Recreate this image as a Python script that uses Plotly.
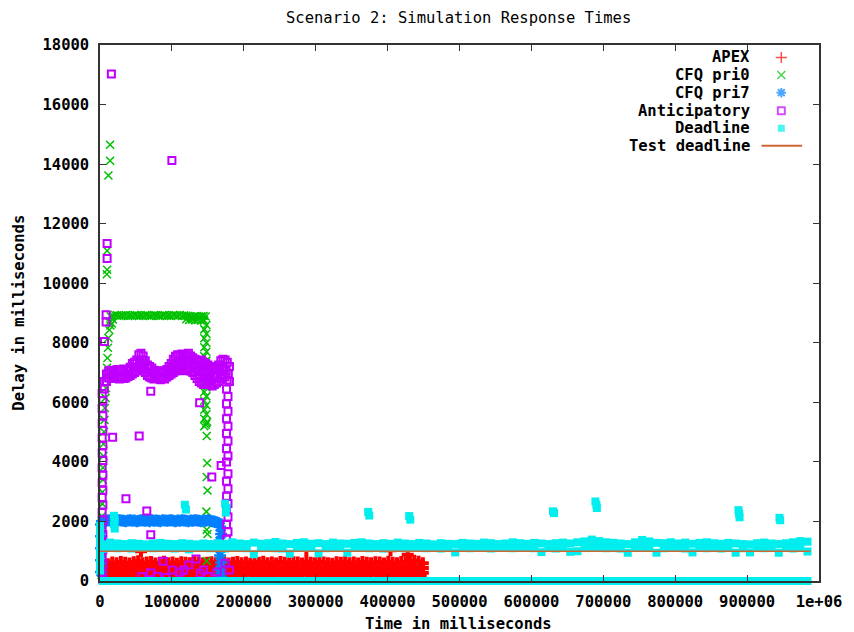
import plotly.graph_objects as go

# ---------------- tick labels ----------------
x_ticks = [0, 100000, 200000, 300000, 400000, 500000, 600000, 700000, 800000, 900000, 1000000]
x_tick_text = ["0", "100000", "200000", "300000", "400000", "500000",
               "600000", "700000", "800000", "900000", "1e+06"]
y_ticks = [0, 2000, 4000, 6000, 8000, 10000, 12000, 14000, 16000, 18000]

# ---------------- APEX (ms) ----------------
apex_t = [5000, 11000, 17000, 23000, 29000, 35000, 41000, 47000, 53000, 59000,
          65000, 71000, 77000, 83000, 89000, 95000, 101000, 107000, 113000, 119000,
          125000, 131000, 137000, 143000, 149000, 155000, 161000, 167000, 173000, 179000,
          185000, 191000, 197000, 203000, 209000, 215000, 221000, 227000, 233000, 239000,
          245000, 251000, 257000, 263000, 269000, 275000, 281000, 287000, 293000, 299000,
          305000, 311000, 317000, 323000, 329000, 335000, 341000, 347000, 353000, 359000,
          365000, 371000, 377000, 383000, 389000, 395000, 401000, 407000, 413000, 419000,
          425000, 431000, 437000, 443000, 449000]
apex_hi = [470, 560, 620, 600, 640, 610, 590, 630, 660, 600,
           620, 640, 590, 610, 650, 600, 620, 580, 630, 610,
           600, 640, 620, 590, 610, 630, 600, 650, 620, 590,
           610, 640, 600, 620, 580, 630, 610, 650, 600, 620,
           590, 640, 610, 600, 630, 620, 590, 650, 610, 600,
           640, 620, 600, 580, 630, 610, 650, 600, 620, 590,
           640, 610, 600, 630, 620, 590, 650, 610, 600, 640,
           620, 660, 680, 650, 600]
apex_mid = [380, 430, 450, 460, 440, 470, 450, 430, 460, 450,
            440, 470, 450, 460, 430, 450, 470, 440, 460, 450,
            430, 460, 450, 470, 440, 450, 460, 430, 470, 450,
            440, 460, 450, 430, 470, 450, 460, 440, 450, 470,
            430, 460, 450, 440, 470, 450, 430, 460, 450, 470,
            440, 450, 460, 430, 470, 450, 440, 460, 450, 430,
            470, 450, 460, 440, 450, 470, 430, 460, 450, 440,
            470, 460, 480, 470, 440]
apex_lo = [280, 300, 290, 310, 280, 300, 320, 290, 300, 280,
           310, 290, 300, 320, 280, 300, 290, 310, 300, 280,
           320, 290, 300, 310, 280, 300, 290, 320, 300, 280,
           310, 300, 290, 280, 320, 300, 310, 290, 300, 280,
           300, 320, 290, 310, 280, 300, 290, 300, 320, 280,
           310, 290, 300, 280, 320, 300, 290, 310, 300, 280,
           300, 320, 290, 300, 310, 280, 300, 290, 320, 300,
           280, 310, 300, 290, 280]
apex_low_t = [8000, 20000, 32000, 38000, 50000, 62000, 80000, 92000, 104000, 116000,
              128000, 146000, 158000, 176000, 188000, 200000, 218000, 230000, 242000, 260000,
              272000, 290000, 302000, 320000, 332000, 344000, 362000, 374000, 392000, 404000,
              416000, 428000, 440000, 446000]
apex_low_ms = [190, 210, 180, 220, 200, 190, 210, 180, 200, 220,
               190, 210, 180, 200, 190, 220, 200, 180, 210, 190,
               200, 220, 180, 210, 190, 200, 180, 220, 190, 210,
               200, 190, 210, 200]
apex_late_t = [57000, 287000, 404000, 428000]
apex_late_ms = [1000, 1040, 1030, 880]

# ---------------- CFQ pri0 (ms) ----------------
p0_band_t = [15000, 18000, 21000, 24000, 27000, 30000, 33000, 36000, 39000, 42000,
             45000, 48000, 51000, 54000, 57000, 60000, 63000, 66000, 69000, 72000,
             75000, 78000, 81000, 84000, 87000, 90000, 93000, 96000, 99000, 102000,
             105000, 108000, 111000, 114000, 117000, 120000, 123000, 126000, 129000, 132000,
             135000, 138000, 141000, 144000, 147000]
p0_band_ms = [8880, 8910, 8930, 8920, 8900, 8920, 8910, 8930, 8900, 8920,
              8910, 8930, 8920, 8900, 8920, 8910, 8930, 8920, 8900, 8910,
              8930, 8920, 8910, 8900, 8920, 8930, 8910, 8920, 8900, 8930,
              8920, 8910, 8930, 8900, 8920, 8910, 8900, 8880, 8870, 8890,
              8880, 8870, 8890, 8900, 8880]
p0_other_t = [13000, 14500, 16500, 18000,
              120000, 124000, 128000, 132000, 136000, 140000, 144000,
              13000, 11700, 11000, 10300, 9700, 9000, 8300, 7600, 6900, 6200,
              5500, 4800, 4800, 4100, 4100, 3400, 3400, 2800, 2800, 2100,
              2100, 2100, 2100,
              145000, 148000, 145000, 148000, 145000, 148000, 145000, 148000, 145000, 148000,
              145000, 148000, 145000, 148000, 145000, 148000, 145000, 148000, 145000, 148000,
              145000, 148000, 145000, 148000, 145000, 149000, 147000,
              148500, 149000, 148500, 149500, 148000, 148500, 149500, 148500,
              14000, 14000, 11700, 9900, 9900, 9500]
p0_other_ms = [8700, 8580, 8650, 8780,
               8790, 8770, 8780, 8760, 8770, 8750, 8760,
               8430, 8160, 7830, 7490, 7160, 6820, 6480, 6150, 5810, 5410,
               5010, 4600, 4200, 3800, 3400, 2990, 2590, 2180, 1780, 1380,
               970, 570, 200,
               8750, 8600, 8450, 8300, 8150, 8000, 7850, 7700, 7550, 7400,
               7250, 7100, 6950, 6800, 6650, 6500, 6350, 6200, 6050, 5900,
               5750, 5600, 5450, 5300, 5200, 5350, 5250,
               4870, 3960, 3490, 3040, 2330, 1720, 1580, 670,
               14650, 14110, 13620, 11090, 10450, 10300]

# ---------------- CFQ pri7 (ms) ----------------
p7_band_t = [3000, 6000, 9000, 12000, 15000, 18000, 21000, 24000, 27000, 30000,
             33000, 36000, 39000, 42000, 45000, 48000, 51000, 54000, 57000, 60000,
             63000, 66000, 69000, 72000, 75000, 78000, 81000, 84000, 87000, 90000,
             93000, 96000, 99000, 102000, 105000, 108000, 111000, 114000, 117000, 120000,
             123000, 126000, 129000, 132000, 135000, 138000, 141000, 144000, 147000, 150000,
             153000, 156000, 159000, 162000, 165000]
p7_band_ms = [2010, 2030, 2020, 2040, 2020, 2010, 2030, 2020, 2040, 2030,
              2020, 2010, 2030, 2040, 2020, 2030, 2010, 2020, 2040, 2030,
              2020, 2030, 2010, 2040, 2020, 2030, 2020, 2010, 2040, 2030,
              2020, 2030, 2040, 2020, 2010, 2030, 2020, 2040, 2030, 2020,
              2010, 2030, 2020, 2040, 2030, 2020, 2010, 2030, 2020, 2040,
              2030, 2010, 2000, 1970, 1940]
p7_other_t = [167000, 168500, 167000, 168500, 167000, 168500, 167000, 168500,
              1500, 1500, 1500, 1500, 1500]
p7_other_ms = [1820, 1580, 1340, 1100, 860, 620, 380, 140,
               1900, 1500, 1100, 700, 300]

# ---------------- Anticipatory (ms) ----------------
an_t = [6000, 9000, 12000, 15000, 18000, 21000, 24000, 27000, 30000, 33000,
        36000, 39000, 42000, 45000, 48000, 51000, 54000, 57000, 60000, 63000,
        66000, 69000, 72000, 75000, 78000, 81000, 84000, 87000, 90000, 93000,
        96000, 99000, 102000, 105000, 108000, 111000, 114000, 117000, 120000, 123000,
        126000, 129000, 132000, 135000, 138000, 141000, 144000, 147000, 150000, 153000,
        156000, 159000, 162000, 165000, 168000, 171000, 174000, 177000, 180000]
an_upper = [6700, 6950, 7050, 7080, 7020, 7060, 7100, 7050, 7080, 7120,
            7060, 7100, 7180, 7300, 7350, 7420, 7600, 7650, 7560, 7400,
            7250, 7200, 7150, 7080, 7050, 7020, 7060, 7000, 7050, 7100,
            7200, 7300, 7450, 7550, 7600, 7580, 7620, 7550, 7600, 7650,
            7560, 7500, 7450, 7400, 7380, 7420, 7350, 7300, 7250, 7200,
            7150, 7100, 7180, 7250, 7400, 7450, 7420, 7350, 7200]
an_lower = [6450, 6700, 6820, 6850, 6800, 6860, 6820, 6780, 6850, 6800,
            6820, 6870, 6900, 6950, 7000, 7050, 7150, 7200, 7100, 7000,
            6900, 6850, 6820, 6780, 6850, 6800, 6760, 6820, 6780, 6850,
            6900, 6950, 7000, 7050, 7100, 7150, 7100, 7060, 7100, 7150,
            7050, 7000, 6900, 6800, 6700, 6650, 6600, 6650, 6700, 6600,
            6550, 6600, 6650, 6700, 6800, 6900, 6850, 6750, 6700]
an_mid_t = [55500, 58500, 61500, 100500, 103500, 106500, 109500, 112500, 115500, 118500,
            121500, 124500, 127500, 130500, 133500, 136500, 139500, 142500, 145500, 148500,
            151500, 154500, 157500, 160500, 163500, 166500, 169500, 172500, 175500, 178500]
an_mid_ms = [7380, 7420, 7300, 7150, 7250, 7320, 7350, 7380, 7330, 7300,
             7350, 7400, 7300, 7250, 7150, 7080, 7050, 7020, 6980, 6960,
             6950, 6880, 6850, 6900, 6950, 7080, 7150, 7120, 7050, 6950]
an_other_t = [3000, 4000, 3000, 4000, 3000, 4000, 3000, 4000, 3000, 4000,
              3000, 4000, 3000, 4000, 3000, 4000, 3000, 4000, 3000, 4000,
              3000, 4000, 3000, 4000, 3000, 4000,
              176000, 178000, 176000, 178000, 176000, 178000, 176000, 178000, 176000, 178000,
              176000, 178000, 176000, 178000, 176000, 178000, 176000, 178000, 176000, 178000,
              176000,
              15800, 100000, 9900, 9900, 8500, 8500, 6200, 17600, 54500, 70600,
              138600, 168500, 155500, 36100, 65100, 70600, 87600, 133500, 123400, 100400,
              111000, 144100, 70600, 79700, 116500, 139600, 174000, 180000, 58000, 92000,
              150000, 163000]
an_other_ms = [6300, 6050, 5800, 5550, 5300, 5050, 4800, 4550, 4300, 4050,
               3800, 3550, 3300, 3050, 2800, 2550, 2300, 2050, 1800, 1550,
               1300, 1050, 800, 550, 300, 50,
               6450, 6200, 5950, 5700, 5450, 5200, 4950, 4700, 4450, 4200,
               4000, 3600, 3350, 3100, 2850, 2600, 2400, 2150, 1900, 1650,
               1400,
               17030, 14120, 11330, 10830, 8940, 8700, 8040, 4830, 4870, 6370,
               5990, 3880, 3490, 2760, 2350, 1550, 660, 740, 540, 370,
               290, 370, 280, 160, 370, 260, 600, 370, 140, 120,
               150, 300]

# ---------------- Deadline (ms) ----------------
dl_t = [4000, 14000, 24000, 34000, 44000, 54000, 64000, 74000, 84000, 94000,
        104000, 114000, 124000, 134000, 144000, 154000, 164000, 174000, 184000, 194000,
        204000, 214000, 224000, 234000, 244000, 254000, 264000, 274000, 284000, 294000,
        304000, 314000, 324000, 334000, 344000, 354000, 364000, 374000, 384000, 394000,
        404000, 414000, 424000, 434000, 444000, 454000, 464000, 474000, 484000, 494000,
        504000, 514000, 524000, 534000, 544000, 554000, 564000, 574000, 584000, 594000,
        604000, 614000, 624000, 634000, 644000, 654000, 664000, 674000, 684000, 694000,
        704000, 714000, 724000, 734000, 744000, 754000, 764000, 774000, 784000, 794000,
        804000, 814000, 824000, 834000, 844000, 854000, 864000, 874000, 884000, 894000,
        904000, 914000, 924000, 934000, 944000, 954000, 964000, 974000, 984000]
dl_upper = [1230, 1290, 1260, 1240, 1270, 1250, 1230, 1260, 1280, 1250,
            1240, 1270, 1250, 1230, 1260, 1240, 1270, 1250, 1300, 1260,
            1240, 1290, 1250, 1270, 1310, 1260, 1240, 1280, 1300, 1250,
            1270, 1240, 1290, 1260, 1250, 1280, 1300, 1260, 1240, 1270,
            1250, 1290, 1260, 1240, 1280, 1260, 1230, 1270, 1250, 1240,
            1280, 1260, 1250, 1290, 1270, 1240, 1260, 1300, 1270, 1250,
            1280, 1260, 1240, 1270, 1290, 1260, 1300, 1330, 1390, 1340,
            1300, 1280, 1260, 1240, 1300, 1380, 1330, 1280, 1270, 1300,
            1260, 1290, 1250, 1280, 1300, 1270, 1250, 1280, 1260, 1240,
            1230, 1270, 1290, 1260, 1240, 1270, 1300, 1340, 1320]
dl_lower = [1080, 1120, 1100, 1130, 1090, 1120, 1140, 1100, 1110, 1130,
            1090, 1120, 1060, 1110, 1130, 1100, 1120, 1090, 1140, 1110,
            1100, 900, 1120, 1130, 1100, 1090, 920, 1120, 1140, 1110,
            930, 1100, 1120, 1130, 950, 1110, 1140, 1100, 1120, 1090,
            1130, 1110, 1100, 1120, 1140, 1100, 1120, 1090, 1110, 960,
            1120, 1100, 1130, 1110, 1090, 1120, 1140, 1100, 1110, 1130,
            1100, 970, 1120, 1090, 1110, 980, 1000, 1120, 1140, 1130,
            1100, 1120, 1090, 950, 1110, 1140, 1120, 950, 1100, 1130,
            1110, 1090, 960, 1120, 1100, 1130, 1090, 1110, 950, 1100,
            960, 1120, 1100, 1130, 950, 1110, 1090, 1120, 990]
dl_floor = [0, 0, 0, 0, 0, 0, 0, 0, 0, 0,
            0, 0, 0, 0, 0, 0, 0, 0, 0, 0,
            0, 0, 0, 0, 0, 0, 0, 0, 0, 0,
            0, 0, 0, 0, 0, 0, 0, 0, 0, 0,
            0, 0, 0, 0, 0, 0, 0, 0, 0, 0,
            0, 0, 0, 0, 0, 0, 0, 0, 0, 0,
            0, 0, 0, 0, 0, 0, 0, 0, 0, 0,
            0, 0, 0, 0, 0, 0, 0, 0, 0, 0,
            0, 0, 0, 0, 0, 0, 0, 0, 0, 0,
            0, 0, 0, 0, 0, 0, 0, 0, 0]
dl_other_t = [0, 0, 0, 0, 0, 0, 0,
              19500, 20500, 19500, 20500,
              118000, 119500,
              174000, 176000, 175000,
              373000, 374500,
              430000, 431500,
              630000, 631500,
              689000, 690500, 691000,
              888000, 889000, 889500,
              945000, 946000]
dl_other_ms = [1850, 1600, 1350, 1100, 850, 600, 350,
               2190, 2050, 1900, 1760,
               2560, 2400,
               2600, 2450, 2300,
               2320, 2200,
               2180, 2060,
               2340, 2280,
               2670, 2560, 2450,
               2380, 2260, 2140,
               2120, 2040]

# ---------------- Test deadline ----------------
test_t = [0, 988000]
test_ms = [1000, 1000]

# ---------------- styles ----------------
FONT = "DejaVu Sans Mono"
RED, GREEN, BLUE, PURPLE, CYAN, SIENNA = "#ff0000", "#00c000", "#0080ff", "#c000ff", "#00eeee", "#cc6633"

fig = go.Figure()

fig.add_trace(go.Scatter(
    x=apex_t + apex_t + apex_t + apex_low_t + apex_late_t,
    y=apex_hi + apex_mid + apex_lo + apex_low_ms + apex_late_ms,
    mode="markers", name="APEX", cliponaxis=False,
    marker=dict(symbol="cross", size=10, color=RED, line=dict(width=0))))

fig.add_trace(go.Scatter(
    x=p0_band_t + p0_other_t, y=p0_band_ms + p0_other_ms,
    mode="markers", name="CFQ pri0", cliponaxis=False,
    marker=dict(symbol="x-thin-open", size=8, color=GREEN, line=dict(color=GREEN, width=1.5))))

fig.add_trace(go.Scatter(
    x=p7_band_t + p7_other_t, y=p7_band_ms + p7_other_ms,
    mode="markers", name="CFQ pri7", cliponaxis=False,
    marker=dict(symbol="asterisk-open", size=10, color=BLUE, line=dict(color=BLUE, width=2.5))))

fig.add_trace(go.Scatter(
    x=an_t + an_t + an_mid_t + an_other_t, y=an_upper + an_lower + an_mid_ms + an_other_ms,
    mode="markers", name="Anticipatory", cliponaxis=False,
    marker=dict(symbol="square-open", size=7, color=PURPLE, line=dict(color=PURPLE, width=2))))

fig.add_trace(go.Scatter(
    x=dl_t + dl_t + dl_t + dl_other_t, y=dl_upper + dl_lower + dl_floor + dl_other_ms,
    mode="markers", name="Deadline", cliponaxis=False,
    marker=dict(symbol="square", size=8, color=CYAN, line=dict(width=0))))

fig.add_trace(go.Scatter(
    x=test_t, y=test_ms, mode="lines", name="Test deadline",
    line=dict(color=SIENNA, width=1.5)))

# ---------------- key (text left, sample right) ----------------
key_names = ["APEX", "CFQ pri0", "CFQ pri7", "Anticipatory", "Deadline", "Test deadline"]
key_rows = [0.9767, 0.9440, 0.9110, 0.8774, 0.8446, 0.8121]
key_text_x = 0.9062
key_mark_x = 0.9476

fig.add_trace(go.Scatter(
    x=[key_mark_x] * 5, y=key_rows[:5], xaxis="x2", yaxis="y2",
    mode="markers", showlegend=False, hoverinfo="skip", cliponaxis=False,
    marker=dict(symbol=["cross-thin-open", "x-thin-open", "asterisk-open", "square-open", "square"],
                size=[8, 8, 8, 7, 7],
                color=[RED, GREEN, BLUE, PURPLE, CYAN],
                line=dict(color=[RED, GREEN, BLUE, PURPLE, CYAN], width=[1.5, 1.5, 2, 2, 0]))))
fig.add_shape(type="line", xref="x2", yref="y2", x0=0.920, x1=0.9766,
              y0=key_rows[5], y1=key_rows[5], line=dict(color=SIENNA, width=2))

annotations = []
for name, ry in zip(key_names, key_rows):
    annotations.append(dict(text=name, xref="paper", yref="paper", x=key_text_x, y=ry,
                            xanchor="right", yanchor="middle", showarrow=False,
                            font=dict(family=FONT, size=15.5, color="black", weight="bold")))
annotations.append(dict(text="Scenario 2: Simulation Response Times", xref="paper", yref="paper",
                        x=0.4993, y=1.0504, xanchor="center", yanchor="middle", showarrow=False,
                        font=dict(family=FONT, size=15.5, color="black")))
annotations.append(dict(text="Time in milliseconds", xref="paper", yref="paper",
                        x=0.4993, y=-0.0802, xanchor="center", yanchor="middle", showarrow=False,
                        font=dict(family=FONT, size=15.5, color="black", weight="bold")))
annotations.append(dict(text="Delay in milliseconds", xref="paper", yref="paper",
                        x=-0.1131, y=0.5, xanchor="center", yanchor="middle", showarrow=False,
                        textangle=-90,
                        font=dict(family=FONT, size=15.5, color="black", weight="bold")))

axis_common = dict(ticks="inside", ticklen=6, tickwidth=1.2, tickcolor="#333333",
                   showline=True, linecolor="#333333", linewidth=1.5, mirror="ticks",
                   showgrid=False, zeroline=False, layer="above traces",
                   tickfont=dict(family=FONT, size=15.5, color="black", weight="bold"))

fig.update_layout(
    width=854, height=632,
    margin=dict(l=100, r=29, t=45, b=51),
    paper_bgcolor="white", plot_bgcolor="white",
    showlegend=False,
    font=dict(family=FONT, color="black"),
    xaxis=dict(range=[0, 1000000], tickvals=x_ticks, ticktext=x_tick_text,
               ticklabelstandoff=6, **axis_common),
    yaxis=dict(range=[0, 18000], tickvals=y_ticks, ticktext=[str(v) for v in y_ticks],
               ticklabelstandoff=6, **axis_common),
    xaxis2=dict(overlaying="x", range=[0, 1], visible=False),
    yaxis2=dict(overlaying="y", range=[0, 1], visible=False),
    annotations=annotations,
)

fig.write_html("out.html")
